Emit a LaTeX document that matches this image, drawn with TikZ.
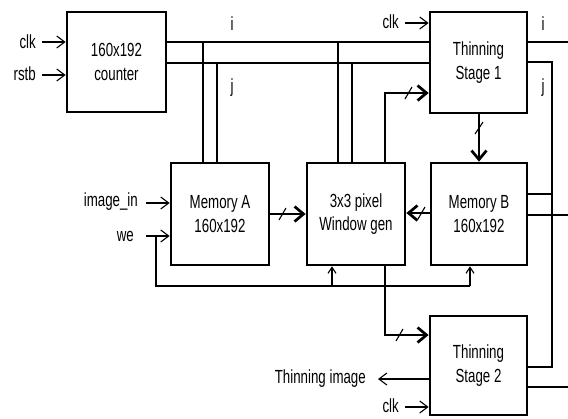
\documentclass[tikz,border=0pt]{standalone}
\usepackage{fontspec}
\setmainfont{Liberation Sans}[FakeStretch=0.7]
\usetikzlibrary{arrows.meta}
\begin{document}
\begin{tikzpicture}[x=1pt,y=-1pt,
  font=\fontsize{19}{23.5}\selectfont,
  blk/.style={draw,line width=2.7pt,align=center,inner sep=0pt},
  wire/.style={line width=1.1pt},
  sarrow/.style={line width=1.1pt,-{Straight Barb[length=8pt,width=12pt,line width=1.1pt]}},
  tarrow/.style={line width=1.1pt,-{Straight Barb[length=6pt,width=8pt,line width=1.1pt]}},
  bus/.style={line width=2.7pt,-{Straight Barb[length=9pt,width=15pt,line width=2.7pt]}},
  lbl/.style={inner sep=0pt}]
\useasboundingbox (0,0) rectangle (568,418);
% blocks
\node[blk,minimum width=99pt,minimum height=100pt] (cnt) at (116.5,62) {160x192\\counter};
\node[blk,minimum width=97pt,minimum height=101pt] (st1) at (478.5,62.5) {Thinning\\Stage 1};
\node[blk,minimum width=98pt,minimum height=102pt] (memA) at (220,214) {Memory A\\160x192};
\node[blk,minimum width=98pt,minimum height=102pt] (win) at (356,214) {3x3 pixel\\Window gen};
\node[blk,minimum width=96pt,minimum height=102pt] (memB) at (479,214) {Memory B\\160x192};
\node[blk,minimum width=97pt,minimum height=99pt] (st2) at (478.5,365.5) {Thinning\\Stage 2};
% input labels
\node[lbl,anchor=east] (lclk1) at (36,42) {clk};
\node[lbl,anchor=east] (lrst) at (36,74) {rstb};
\node[lbl,anchor=east] (lclk2) at (399,22) {clk};
\node[lbl,anchor=east] (limg) at (138,202) {image\_in};
\node[lbl,anchor=east] (lwe) at (134,236) {we};
\node[lbl,anchor=east] (lout) at (366,379) {Thinning image};
\node[lbl,anchor=east] (lclk3) at (399,406) {clk};
\node[lbl] (li1) at (232,24) {i};
\node[lbl] (lj1) at (232,88) {j};
\node[lbl] (li2) at (543,24) {i};
\node[lbl] (lj2) at (543,88) {j};
% helper coordinates
\coordinate (ri) at (568,42);
\coordinate (rB) at (568,215);
\coordinate (r2) at (568,387);
\coordinate (fb) at (156,286);
% inputs
\draw[sarrow] (42,42) -- (cnt.west |- 0,42);
\draw[sarrow] (42,75) -- (cnt.west |- 0,75);
\draw[sarrow] (405,23) -- (st1.west |- 0,23);
\draw[sarrow] (146,203) -- (memA.west |- 0,203);
\draw[sarrow] (146,236) -- (memA.west |- 0,236);
\draw[sarrow] (st2.west |- 0,379) -- (378,379);
\draw[sarrow] (405,407) -- (st2.west |- 0,407);
% counter outputs
\draw[wire] (cnt.east |- 0,42) -- (st1.west |- 0,42);
\draw[wire] (cnt.east |- 0,63) -- (st1.west |- 0,63);
\draw[wire] (203,42) -- (memA.north -| 203,0);
\draw[wire] (217,63) -- (memA.north -| 217,0);
\draw[wire] (338,42) -- (win.north -| 338,0);
\draw[wire] (352,63) -- (win.north -| 352,0);
% stage 1 outputs
\draw[wire] (st1.east |- ri) -- (ri);
\draw[wire] (st1.east |- 0,62) -- (552,62) -- (552,367) -- (st2.east |- 0,367);
\draw[wire] (memB.east |- 0,194) -- (552,194);
\draw[wire] (memB.east |- rB) -- (rB);
\draw[wire] (st2.east |- r2) -- (r2);
% we feedback
\draw[wire] (156,236) -- (fb) -- (470,286);
\draw[tarrow] (332,286) -- (win.south -| 332,0);
\draw[tarrow] (470,286) -- (memB.south -| 470,0);
% buses
\draw[bus] (win.north -| 385,0) -- (385,93) -- (st1.west |- 0,93);
\draw[bus] (st1.south -| 479,0) -- (memB.north -| 479,0);
\draw[bus] (memB.west |- 0,213) -- (win.east |- 0,213);
\draw[bus] (memA.east |- 0,214) -- (win.west |- 0,214);
\draw[bus] (win.south -| 385,0) -- (385,335) -- (st2.west |- 0,335);
% bus slashes
\draw[wire] (405,99) -- (412,87);
\draw[wire] (475,134) -- (483,122);
\draw[wire] (418,219) -- (425,207);
\draw[wire] (279,220) -- (286,208);
\draw[wire] (396,341) -- (403,329);
\end{tikzpicture}
\end{document}
